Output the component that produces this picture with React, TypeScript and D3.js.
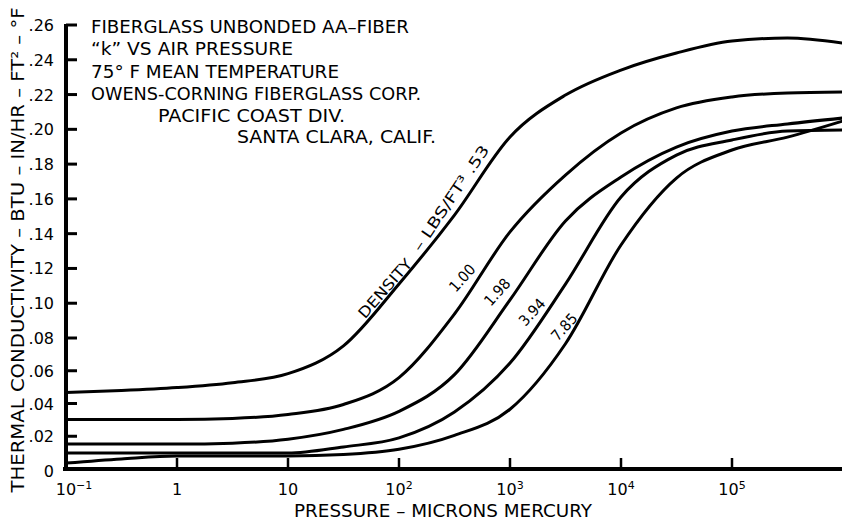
import React from "react";
import * as d3 from "d3";

// Pressure (microns Hg), half-decade steps
const PRESSURE = [0.1, 0.316, 1, 3.16, 10, 31.6, 100, 316, 1000, 3160, 10000, 31600, 100000, 316000, 1000000];
// Thermal conductivity k (BTU-in/hr-ft²-°F) for each density (lbs/ft³)
const K_053 = [0.0467, 0.0479, 0.0497, 0.0527, 0.0582, 0.0752, 0.1111, 0.1507, 0.1956, 0.2197, 0.2341, 0.2439, 0.2508, 0.2525, 0.2496];
const K_100 = [0.0303, 0.0303, 0.0303, 0.0309, 0.0333, 0.0394, 0.0558, 0.0938, 0.141, 0.1737, 0.1979, 0.2123, 0.2186, 0.2209, 0.2215];
const K_198 = [0.0152, 0.0152, 0.0152, 0.0158, 0.0182, 0.0242, 0.0352, 0.0576, 0.1019, 0.1473, 0.1726, 0.1898, 0.199, 0.2031, 0.2065];
const K_394 = [0.0097, 0.0097, 0.0097, 0.0097, 0.0097, 0.0135, 0.019, 0.0348, 0.0647, 0.111, 0.1611, 0.1852, 0.1939, 0.199, 0.1996];
const K_785 = [0.0036, 0.0061, 0.0079, 0.0079, 0.0079, 0.0088, 0.012, 0.0205, 0.0365, 0.0765, 0.1335, 0.172, 0.1881, 0.1955, 0.2048];
const SERIES = [K_053, K_100, K_198, K_394, K_785];

const Y_TICKS = [0.02, 0.04, 0.06, 0.08, 0.1, 0.12, 0.14, 0.16, 0.18, 0.2, 0.22, 0.24, 0.26];
const Y_TICK_LABELS = [".02", ".04", ".06", ".08", ".10", ".12", ".14", ".16", ".18", ".20", ".22", ".24", ".26"];
const X_TICKS = [1, 10, 100, 1000, 10000, 100000];
const X_TICK_BASE = ["1", "10", "10", "10", "10", "10"];
const X_TICK_EXP = ["", "", "2", "3", "4", "5"];

const TITLE_LINES = [
  "FIBERGLASS UNBONDED AA–FIBER",
  "“k” VS AIR PRESSURE",
  "75° F MEAN TEMPERATURE",
  "OWENS-CORNING FIBERGLASS CORP.",
  "PACIFIC COAST DIV.",
  "SANTA CLARA, CALIF.",
];
const TITLE_X = [91, 91, 91, 91, 158, 237];
const TITLE_Y = [33, 55, 78, 100, 122, 143];
const TITLE_LEN = [318, 202, 248, 330, 187, 199];

// curve labels: text, pressure, k, rotation, text length
const CURVE_LABELS = [
  { t: "DENSITY", p: 81.3, k: 0.1065, r: -49, len: 73 },
  { t: "– LBS/FT³ .53", p: 320, k: 0.1588, r: -56, len: 124 },
  { t: "1.00", p: 402, k: 0.1125, r: -48, len: 31 },
  { t: "1.98", p: 830, k: 0.1044, r: -48, len: 31 },
  { t: "3.94", p: 1714, k: 0.0929, r: -48, len: 31 },
  { t: "7.85", p: 3334, k: 0.0843, r: -48, len: 31 },
];

const W = 842;
const H = 523;
const FONT = "'DejaVu Sans', sans-serif";

export default function App() {
  const x = d3.scaleLog().domain([0.1, 1e6]).range([66, 843]);
  const y = d3.scaleLinear().domain([0, 0.08, 0.26]).range([469, 338, 25]);

  const line = d3
    .line<[number, number]>()
    .x((d) => x(d[0]))
    .y((d) => y(d[1]))
    .curve(d3.curveMonotoneX);

  const y0 = y(0);
  const xAxisLeft = x(0.1) - 3;

  return (
    <svg
      width={W}
      height={H}
      style={{ position: "absolute", left: 0, top: 0, background: "#fff" }}
      fontFamily={FONT}
    >
      <rect width={W} height={H} fill="#fff" />
      {/* axes */}
      <line x1={x(0.1)} x2={x(0.1)} y1={y(0.26) - 1} y2={y0 + 2} stroke="#000" strokeWidth={4} />
      <line x1={xAxisLeft} x2={W} y1={y0} y2={y0} stroke="#000" strokeWidth={4} />
      {Y_TICKS.map((t, i) => (
        <g key={"yt" + i}>
          <line x1={x(0.1)} x2={x(0.1) + 11} y1={y(t)} y2={y(t)} stroke="#000" strokeWidth={3} />
          <text x={54} y={y(t) + 6} textAnchor="end" fontSize={16}>
            {Y_TICK_LABELS[i]}
          </text>
        </g>
      ))}
      <text x={54} y={y0 + 8} textAnchor="end" fontSize={16}>
        0
      </text>
      {X_TICKS.map((t, i) => (
        <g key={"xt" + i}>
          <line x1={x(t)} x2={x(t)} y1={y0 - 1} y2={y0 - 11} stroke="#000" strokeWidth={2.5} />
          <text x={x(t)} y={495} textAnchor="middle" fontSize={16}>
            {X_TICK_BASE[i]}
            {X_TICK_EXP[i] && (
              <tspan dy={-6} fontSize={11}>
                {X_TICK_EXP[i]}
              </tspan>
            )}
          </text>
        </g>
      ))}
      <text x={x(0.1) + 8} y={495} textAnchor="middle" fontSize={16}>
        10
        <tspan dy={-6} fontSize={11}>
          −1
        </tspan>
      </text>

      {/* curves */}
      {SERIES.map((s, i) => (
        <path
          key={"c" + i}
          d={line(PRESSURE.map((p, j) => [p, s[j]] as [number, number])) || ""}
          fill="none"
          stroke="#000"
          strokeWidth={3}
          strokeLinejoin="round"
        />
      ))}

      {/* curve labels */}
      {CURVE_LABELS.map((l, i) => (
        <text
          key={"cl" + i}
          transform={`translate(${x(l.p)},${y(l.k)}) rotate(${l.r})`}
          textAnchor="middle"
          fontSize={15}
          textLength={l.len}
          lengthAdjust="spacingAndGlyphs"
        >
          {l.t}
        </text>
      ))}

      {/* title block */}
      {TITLE_LINES.map((t, i) => (
        <text
          key={"tl" + i}
          x={TITLE_X[i]}
          y={TITLE_Y[i]}
          fontSize={18}
          textLength={TITLE_LEN[i]}
          lengthAdjust="spacingAndGlyphs"
        >
          {t}
        </text>
      ))}

      {/* axis titles */}
      <text
        x={443}
        y={517}
        textAnchor="middle"
        fontSize={17}
        textLength={298}
        lengthAdjust="spacingAndGlyphs"
      >
        PRESSURE – MICRONS MERCURY
      </text>
      <text
        transform={`translate(24,250) rotate(-90)`}
        textAnchor="middle"
        fontSize={17}
        textLength={485}
        lengthAdjust="spacingAndGlyphs"
      >
        THERMAL CONDUCTIVITY – BTU – IN/HR – FT² – °F
      </text>
    </svg>
  );
}
